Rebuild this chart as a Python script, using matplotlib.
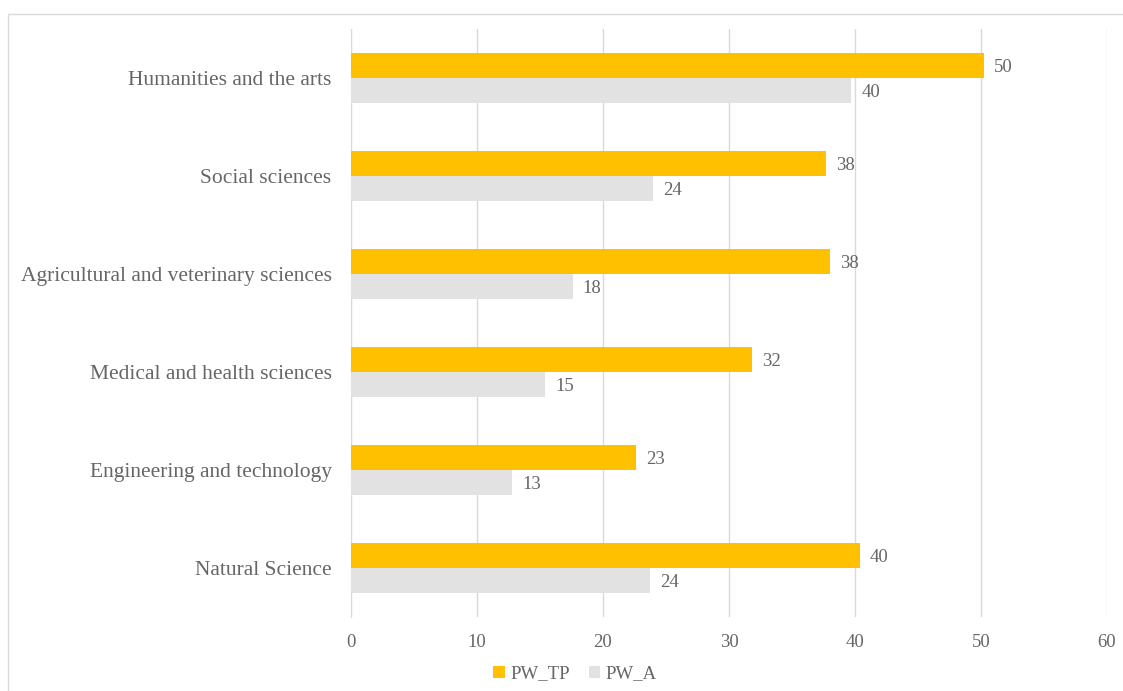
import matplotlib
matplotlib.use("Agg")
import matplotlib.pyplot as plt
from matplotlib.patches import Rectangle
import numpy as np

categories = ["Humanities and the arts", "Social sciences",
              "Agricultural and veterinary sciences", "Medical and health sciences",
              "Engineering and technology", "Natural Science"]
pw_tp = [50.2, 37.7, 38.0, 31.8, 22.6, 40.4]
pw_a = [39.7, 24.0, 17.6, 15.4, 12.8, 23.7]
series_names = ["PW_TP", "PW_A"]
xticks = [0, 10, 20, 30, 40, 50, 60]

plt.rcParams['font.family'] = ['Liberation Serif', 'DejaVu Serif']
W, H = 1123, 691
fig = plt.figure(figsize=(W/100, H/100), dpi=100)
ax = fig.add_axes([351/W, 1-617/H, (1107-351)/W, (617-29)/H])

txt = '#666666'
c_tp = '#FFC000'
c_a = '#E2E2E2'

n = len(categories)
pos = np.arange(n)[::-1].astype(float)  # top category first
h = 0.255
ax.barh(pos + h/2, pw_tp, height=h, color=c_tp, label=series_names[0], zorder=3)
ax.barh(pos - h/2, pw_a, height=h, color=c_a, label=series_names[1], zorder=3)

for y, v in zip(pos + h/2, pw_tp):
    ax.text(v + 0.8, y, f"{v:.0f}", va='center_baseline', ha='left', fontsize=13.5, color=txt)
for y, v in zip(pos - h/2, pw_a):
    ax.text(v + 0.8, y, f"{v:.0f}", va='center_baseline', ha='left', fontsize=13.5, color=txt)

ax.set_xlim(0, 60)
ax.set_ylim(-0.5, n - 0.5)
ax.set_xticks(xticks)
ax.set_xticklabels([str(t) for t in xticks], fontsize=13.5, color=txt)
ax.set_yticks(pos)
ax.set_yticklabels(categories, fontsize=15.5, color=txt)
ax.tick_params(axis='both', length=0)
ax.tick_params(axis='x', pad=12)
ax.tick_params(axis='y', pad=14)
ax.grid(axis='x', color='#D9D9D9', linewidth=1, zorder=0)
for s in ['top', 'right', 'bottom']:
    ax.spines[s].set_visible(False)
ax.spines['left'].set_color('#D9D9D9')

leg = fig.legend(loc='center', bbox_to_anchor=(575/W, 1-674/H), ncol=2, frameon=False,
                 fontsize=13.5, handlelength=0.6, handleheight=0.6, handletextpad=0.3,
                 columnspacing=1.0)
for t in leg.get_texts():
    t.set_color(txt)

fig.patches.append(Rectangle((8/W, -0.05), 1.0, 1.05-14/H, transform=fig.transFigure,
                             fill=False, edgecolor='#D9D9D9', linewidth=1))

fig.savefig("out.png", dpi=100, facecolor='white')
